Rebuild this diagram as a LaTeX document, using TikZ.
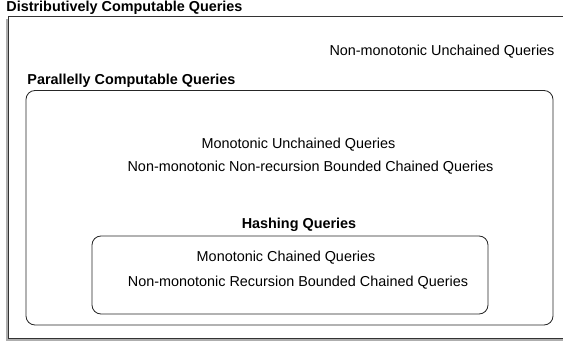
\documentclass[tikz,border=0pt]{standalone}
\usepackage{fontspec}
\setmainfont{Liberation Sans}
\usepackage{tikz}
\usetikzlibrary{shadows}
\usetikzlibrary{positioning}

\begin{document}
\begin{tikzpicture}[
    x=1pt, y=-1pt,
    line width=0.8pt,
    font=\fontsize{14.4}{17}\selectfont
]
\tikzset{
    outerbox/.style = {draw=black!80, fill=white, drop shadow={shadow xshift=-2pt, shadow yshift=-2.5pt, opacity=0.45, fill=black!70}},
    groupbox/.style = {draw=black!85, rounded corners=9pt},
    title/.style = {font=\fontsize{14.4}{17}\selectfont\bfseries, anchor=west, inner sep=0pt},
    query/.style = {inner sep=0pt}
}
\useasboundingbox (0,0) rectangle (563,345);
% outer class
\draw[outerbox] (8,16.5) rectangle (566,338);
\node[title] (DC) at (6,7.5) {Distributively Computable Queries};
\node[query] (NMU) at (442,52) {Non-monotonic Unchained Queries};
% parallel class
\draw[groupbox] (26,90.5) rectangle (553,325);
\node[title] (PC) at (27,81) {Parallelly Computable Queries};
\node[query] (MU) at (298.5,145) {Monotonic Unchained Queries};
\node[query] (NMNR) at (310.5,168) {Non-monotonic Non-recursion Bounded Chained Queries};
% hashing class
\node[title, anchor=center] (HQ) at (299,225) {Hashing Queries};
\draw[groupbox] (92,236) rectangle (488,314);
\node[query] (MC) at (286,258) {Monotonic Chained Queries};
\node[query] (NMR) at (298,283) {Non-monotonic Recursion Bounded Chained Queries};
\end{tikzpicture}
\end{document}
